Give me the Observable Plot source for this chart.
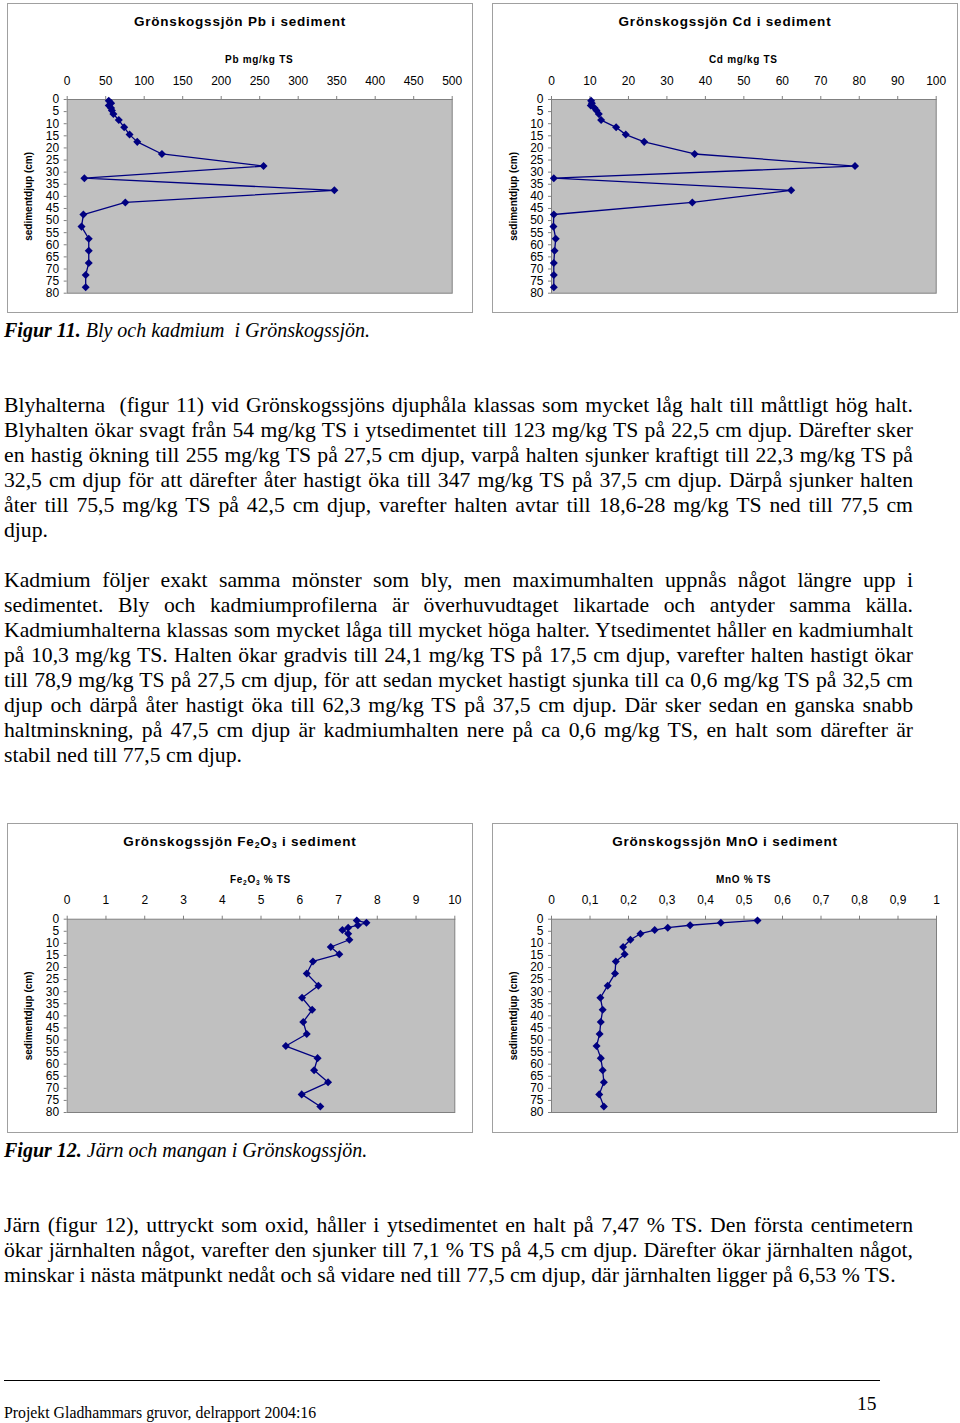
<!DOCTYPE html>
<html><head><meta charset="utf-8">
<script src="https://cdn.jsdelivr.net/npm/d3@7"></script>
<script src="https://cdn.jsdelivr.net/npm/@observablehq/plot@0.6"></script>
<style>
body{margin:0;background:#fff;width:960px;height:1423px;position:relative;overflow:hidden;font-family:"Liberation Serif","Times New Roman",serif;color:#000;}
.box{position:absolute;width:464px;height:308px;border:1px solid #a0a0a0;background:#fff;font-family:"Liberation Sans",Arial,sans-serif;}
.title{position:absolute;left:0;right:0;top:10px;line-height:16px;text-align:center;font-weight:bold;font-size:13.5px;letter-spacing:0.8px;}
.xlabel{position:absolute;top:50px;line-height:12px;font-weight:bold;font-size:10px;text-align:center;letter-spacing:0.7px}
.xlabel sub,.title sub{font-size:65%;vertical-align:-2px;line-height:0}
.plot{position:absolute;left:0;top:64px;}
.caption{position:absolute;left:4px;font-size:20px;line-height:22px;font-style:italic}
.para{position:absolute;left:4px;width:909px;font-size:21.7px;line-height:25px}
.para div{white-space:nowrap;}
.rule{position:absolute;left:4px;top:1380px;width:876px;height:1px;background:#000}
.foot{position:absolute;left:4px;top:1404px;font-size:15.8px;line-height:18px}
.pno{position:absolute;left:857px;top:1393px;font-size:19.5px;line-height:22px}
</style></head>
<body>
<script>
// ---- data ----
const depth = [0.5, 1.5, 2.5, 3.5, 4.5, 6, 8.5, 11.5, 14.5, 17.5, 22.5, 27.5, 32.5, 37.5, 42.5, 47.5, 52.5, 57.5, 62.5, 67.5, 72.5, 77.5];
const pb   = [54, 57, 54, 57, 58, 60, 67, 74, 81, 91, 123, 255, 22.3, 347, 75.5, 21, 18.6, 28, 28, 28, 24, 24];
const cd   = [10.3, 10.5, 10.2, 11.2, 11.7, 12.3, 12.9, 16.8, 19.3, 24.1, 37.2, 78.9, 0.6, 62.3, 36.6, 0.6, 0.5, 1.1, 0.8, 0.6, 0.6, 0.6];
const fe2o3 = [7.47, 7.72, 7.5, 7.25, 7.1, 7.25, 7.28, 6.8, 7.02, 6.34, 6.18, 6.48, 6.06, 6.32, 6.09, 6.18, 5.64, 6.46, 6.37, 6.73, 6.05, 6.53];
const mno  = [0.535, 0.44, 0.36, 0.302, 0.268, 0.231, 0.205, 0.186, 0.19, 0.167, 0.165, 0.146, 0.127, 0.133, 0.128, 0.125, 0.117, 0.128, 0.133, 0.136, 0.124, 0.136];
const yTicks = [0, 5, 10, 15, 20, 25, 30, 35, 40, 45, 50, 55, 60, 65, 70, 75, 80];
const pbTicks = [0, 50, 100, 150, 200, 250, 300, 350, 400, 450, 500];
const cdTicks = [0, 10, 20, 30, 40, 50, 60, 70, 80, 90, 100];
const feTicks = [0, 1, 2, 3, 4, 5, 6, 7, 8, 9, 10];
const mnoTicks = [0, 0.1, 0.2, 0.3, 0.4, 0.5, 0.6, 0.7, 0.8, 0.9, 1];
const yLabel = "sedimentdjup (cm)";

const diamond = {draw(ctx, size){const h = Math.sqrt(size/2); ctx.moveTo(0,-h); ctx.lineTo(h,0); ctx.lineTo(0,h); ctx.lineTo(-h,0); ctx.closePath();}};

function chart(o){
  const data = depth.map((d,i)=>({depth:d, v:o.values[i]}));
  return Plot.plot({
    width:464, height:244,
    marginLeft:o.ml, marginRight:o.mr, marginTop:o.mt, marginBottom:o.mb,
    style:{fontFamily:"'Liberation Sans', Arial, sans-serif", fontSize:"12px", background:"transparent", color:"#000"},
    x:{domain:[0, o.xmax]},
    y:{domain:[0, 80], reverse:true},
    marks:[
      Plot.frame({fill:"#c0c0c0", stroke:"#808080"}),
      Plot.axisX(o.ticks, {anchor:"top", tickSize:4, tickPadding:11, label:null, tickFormat:o.fmt, stroke:"#808080"}),
      Plot.axisY(yTicks, {anchor:"left", tickSize:3, tickPadding:5, label:null, stroke:"#808080"}),
      Plot.line(data, {x:"v", y:"depth", stroke:"#000080", strokeWidth:1.3}),
      Plot.dot(data, {x:"v", y:"depth", symbol:diamond, r:3.2, fill:"#000080", stroke:"none"}),
      Plot.text([yLabel], {frameAnchor:"left", textAnchor:"middle", rotate:-90, dx:-38, fontWeight:"bold", fontSize:10, fill:"#000"})
    ]
  });
}

function box(o){
  const b = document.createElement("div");
  b.className = "box";
  b.style.left = o.left + "px";
  b.style.top = o.top + "px";
  const t = document.createElement("div");
  t.className = "title"; t.innerHTML = o.title; b.appendChild(t);
  const xl = document.createElement("div");
  xl.className = "xlabel"; xl.innerHTML = o.xlabel;
  xl.style.left = o.ml + "px"; xl.style.width = (464 - o.ml - o.mr) + "px";
  b.appendChild(xl);
  const p = document.createElement("div");
  p.className = "plot";
  p.appendChild(chart(o));
  b.appendChild(p);
  document.body.appendChild(b);
}

const intFmt = d => String(d);
const commaFmt = d => (d === 0 || d === 1) ? String(d) : d.toFixed(1).replace(".", ",");

box({left:7, top:3, title:"Grönskogssjön Pb i sediment", xlabel:"Pb mg/kg TS", values:pb, xmax:500, ticks:pbTicks, fmt:intFmt, ml:58.7, mr:20.3, mt:31, mb:19.3});
box({left:492, top:3, title:"Grönskogssjön Cd i sediment", xlabel:"Cd mg/kg TS", values:cd, xmax:100, ticks:cdTicks, fmt:intFmt, ml:58, mr:21.3, mt:31, mb:19.3});
box({left:7, top:823, title:"Grönskogssjön Fe<sub>2</sub>O<sub>3</sub> i sediment", xlabel:"Fe<sub>2</sub>O<sub>3</sub> % TS", values:fe2o3, xmax:10, ticks:feTicks, fmt:intFmt, ml:58.7, mr:17.7, mt:30.7, mb:20});
box({left:492, top:823, title:"Grönskogssjön MnO i sediment", xlabel:"MnO % TS", values:mno, xmax:1, ticks:mnoTicks, fmt:commaFmt, ml:58, mr:21, mt:30.7, mb:20});
</script>

<div class="caption" style="top:319px"><b>Figur 11.</b> Bly och kadmium&nbsp; i Grönskogssjön.</div>

<div class="para" style="top:393px">
<div class="j">Blyhalterna&nbsp; (figur 11) vid Grönskogssjöns djuphåla klassas som mycket låg halt till måttligt hög halt.</div>
<div class="j">Blyhalten ökar svagt från 54 mg/kg TS i ytsedimentet till 123 mg/kg TS på 22,5 cm djup. Därefter sker</div>
<div class="j">en hastig ökning till 255 mg/kg TS på 27,5 cm djup, varpå halten sjunker kraftigt till 22,3 mg/kg TS på</div>
<div class="j">32,5 cm djup för att därefter åter hastigt öka till 347 mg/kg TS på 37,5 cm djup. Därpå sjunker halten</div>
<div class="j">åter till 75,5 mg/kg TS på 42,5 cm djup, varefter halten avtar till 18,6-28 mg/kg TS ned till 77,5 cm</div>
<div>djup.</div>
</div>

<div class="para" style="top:568px">
<div class="j">Kadmium följer exakt samma mönster som bly, men maximumhalten uppnås något längre upp i</div>
<div class="j">sedimentet. Bly och kadmiumprofilerna är överhuvudtaget likartade och antyder samma källa.</div>
<div class="j">Kadmiumhalterna klassas som mycket låga till mycket höga halter. Ytsedimentet håller en kadmiumhalt</div>
<div class="j">på 10,3 mg/kg TS. Halten ökar gradvis till 24,1 mg/kg TS på 17,5 cm djup, varefter halten hastigt ökar</div>
<div class="j">till 78,9 mg/kg TS på 27,5 cm djup, för att sedan mycket hastigt sjunka till ca 0,6 mg/kg TS på 32,5 cm</div>
<div class="j">djup och därpå åter hastigt öka till 62,3 mg/kg TS på 37,5 cm djup. Där sker sedan en ganska snabb</div>
<div class="j">haltminskning, på 47,5 cm djup är kadmiumhalten nere på ca 0,6 mg/kg TS, en halt som därefter är</div>
<div>stabil ned till 77,5 cm djup.</div>
</div>

<div class="caption" style="top:1139px"><b>Figur 12.</b> Järn och mangan i Grönskogssjön.</div>

<div class="para" style="top:1213px">
<div class="j">Järn (figur 12), uttryckt som oxid, håller i ytsedimentet en halt på 7,47 % TS. Den första centimetern</div>
<div class="j">ökar järnhalten något, varefter den sjunker till 7,1 % TS på 4,5 cm djup. Därefter ökar järnhalten något,</div>
<div>minskar i nästa mätpunkt nedåt och så vidare ned till 77,5 cm djup, där järnhalten ligger på 6,53 % TS.</div>
</div>

<div class="rule"></div>
<div class="foot">Projekt Gladhammars gruvor, delrapport 2004:16</div>
<div class="pno">15</div>
<script>
// justify each full line to the column width by adjusting word spacing
document.querySelectorAll(".para div.j").forEach(div => {
  const span = document.createElement("span");
  span.innerHTML = div.innerHTML;
  div.innerHTML = "";
  div.appendChild(span);
  const w = span.getBoundingClientRect().width;
  const n = (span.textContent.match(/[ \u00a0]/g) || []).length;
  if (n > 0) div.style.wordSpacing = ((909 - w) / n) + "px";
});
</script>
</body></html>
